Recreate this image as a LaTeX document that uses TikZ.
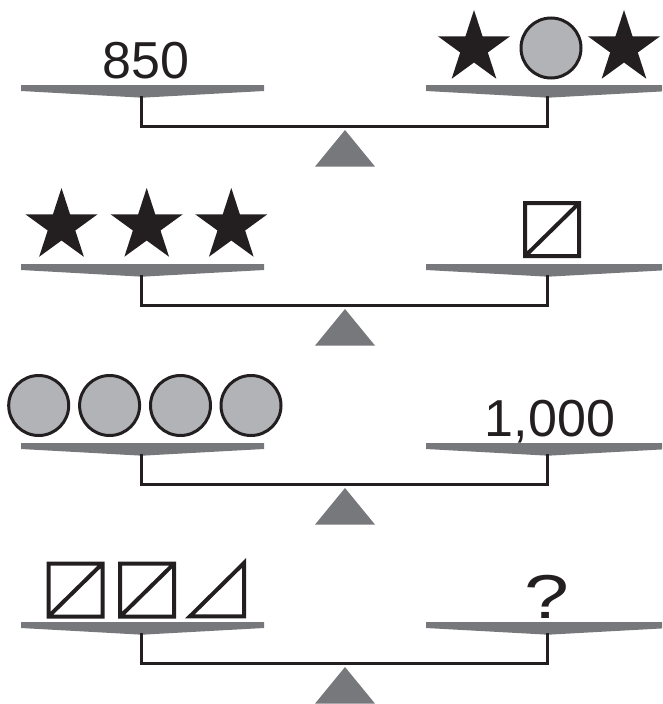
\documentclass[tikz,border=0pt]{standalone}
\usepackage{graphicx}
\usepackage{fontspec}
\setmainfont{Liberation Sans}
\definecolor{pangray}{HTML}{77787B}
\definecolor{ballgray}{HTML}{B1B3B6}
\definecolor{inkc}{HTML}{231F20}
\tikzset{
  panshape/.style={fill=pangray},
  beamline/.style={draw=inkc, line width=3.3, line join=miter},
  fulcrum/.style={fill=pangray},
  coin/.style={fill=ballgray, draw=inkc, line width=3},
  bigtext/.style={font=\fontsize{52}{60}\selectfont, text=inkc, anchor=base, inner sep=0},
  bigstar/.pic={\fill[inkc] (-90:38) -- (-54:14.52) -- (-18:38) -- (18:14.52) -- (54:38) -- (90:14.52) -- (126:38) -- (162:14.52) -- (198:38) -- (234:14.52) -- cycle;},
  sqbox/.pic={\draw[inkc, line width=4, line join=miter] (-27,-26.5) rectangle (27,26.5) (-27,26.5) -- (27,-26.5);}
}
\begin{document}
\begin{tikzpicture}[x=1pt,y=-1pt]
\useasboundingbox (0,0) rectangle (662,704);
\begin{scope}
\clip (0,0) rectangle (662,704);
\foreach \dy in {0,179,358,537}{
  \begin{scope}[shift={(0,\dy)}]
    \fill[panshape] (21,85) -- (264,85) -- (264,91) -- (142,97.7) -- (21,91) -- cycle;
    \fill[panshape] (426,85) -- (670,85) -- (670,91) -- (548,97.7) -- (426,91) -- cycle;
    \draw[beamline] (141.7,96) -- (141.7,126.7) -- (547.7,126.7) -- (547.7,96);
    \fill[fulcrum] (345,130) -- (375,166.6) -- (315,166.6) -- cycle;
  \end{scope}
}
\end{scope}
% balance 1
\node[bigtext] (t850) at (146,78) {850};
\pic at (474,48) {bigstar};
\draw[coin] (551,48) circle[radius=30];
\pic at (624,48) {bigstar};
% balance 2
\pic at (61.5,226) {bigstar};
\pic at (146.7,226) {bigstar};
\pic at (231.3,226) {bigstar};
\pic at (552.2,229.5) {sqbox};
% balance 3
\foreach \cx in {38.7,109.6,180.5,251}{\draw[coin] (\cx,405.5) circle[radius=30];}
\node[bigtext] (t1000) at (550,436.7) {1,000};
% balance 4
\pic at (75.5,590) {sqbox};
\pic at (147.2,590) {sqbox};
\draw[inkc, line width=4, line join=miter] (190,616.3) -- (244,616.3) -- (244,563) -- cycle;
\node[bigtext] (tq) at (546.5,618.3) {\scalebox{1.3}[1]{\fontsize{62}{70}\selectfont ?}};
\end{tikzpicture}
\end{document}
